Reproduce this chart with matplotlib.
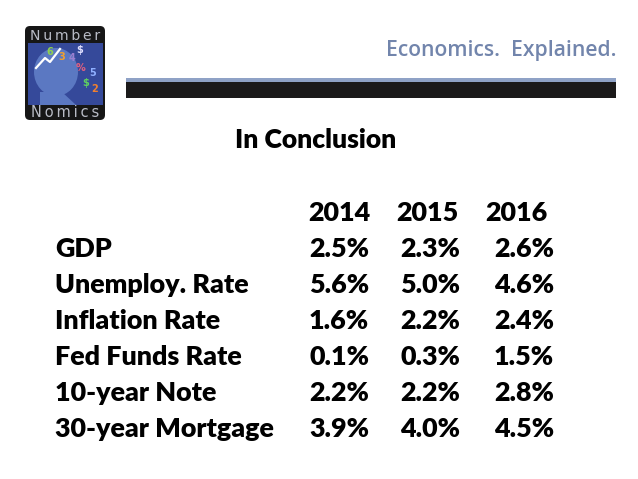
import numpy as np
import matplotlib
matplotlib.use("Agg")
import matplotlib.pyplot as plt
from matplotlib.patches import Rectangle, FancyBboxPatch, Ellipse, Polygon


# table contents
indicators = ["GDP", "Unemploy. Rate", "Inflation Rate", "Fed Funds Rate",
              "10-year Note", "30-year Mortgage"]
years = ["2014", "2015", "2016"]
v2014 = [2.5, 5.6, 1.6, 0.1, 2.2, 3.9]
v2015 = [2.3, 5.0, 2.2, 0.3, 2.2, 4.0]
v2016 = [2.6, 4.6, 2.4, 1.5, 2.8, 4.5]

title = "In Conclusion"
tagline = "Economics.  Explained."

W, H = 638, 479
fig = plt.figure(figsize=(W / 100, H / 100), dpi=100)
ax = fig.add_axes([0, 0, 1, 1])
ax.set_xlim(0, W)
ax.set_ylim(H, 0)
ax.axis("off")
renderer = fig.canvas.get_renderer()


def fit_size(s, width, **kw):
    #size of text so that it is width pixels wide
    t = ax.text(0, 0, s, fontsize=10, **kw)
    w = t.get_window_extent(renderer).width
    t.remove()
    return 10 * width / w


body = dict(family="Lato", weight="heavy", color="black")
fs = fit_size("30-year Mortgage", 220, **body)

# logo
ax.add_patch(FancyBboxPatch((27, 28), 76, 90, boxstyle="round,pad=2,rounding_size=5",
                            fc="#161616", ec="none"))
ax.add_patch(Rectangle((28, 43), 75, 62, fc="#35499a", ec="none"))
ax.add_patch(Ellipse((56, 72), 44, 48, fc="#5b78c2", ec="none"))
ax.add_patch(Polygon([[40, 92], [62, 92], [76, 105], [40, 105]], fc="#5b78c2", ec="none"))
ax.plot([36, 45, 50, 60], [68, 58, 62, 49], color="white", lw=1.6)
for s, x, y, c in [("6", 50, 52, "#8fd14f"), ("3", 62, 57, "#f0a030"), ("4", 72, 58, "#9a7fd0"),
                   ("$", 80, 50, "#e0e0ff"), ("5", 93, 73, "#8fb0ff"), ("$", 86, 83, "#5fd060"),
                   ("2", 95, 89, "#f08030"), ("%", 80, 68, "#e06080")]:
    ax.text(x, y, s, fontsize=7, color=c, weight="bold", ha="center", va="center")
lg = dict(family="DejaVu Sans", color="#b9bcc6")
top_word = "\u2009".join("Number")
bot_word = "\u2009".join("Nomics")
ax.text(65, 35.5, top_word, fontsize=fit_size(top_word, 70, **lg), ha="center", va="center", **lg)
ax.text(65, 112.5, bot_word, fontsize=fit_size(bot_word, 68, **lg), ha="center", va="center", **lg)

# header
tg = dict(family="Open Sans", weight="semibold", color="#7285ac")
ax.text(617, 56, tagline, fontsize=fit_size(tagline, 231, **tg), ha="right", va="baseline", **tg)
ax.add_patch(Rectangle((126, 78), 490, 3.5, fc="#8fa2c6", ec="none"))
ax.add_patch(Rectangle((126, 81.5), 490, 16.5, fc="#1b1a1a", ec="none"))

# title
ax.text(316, 148, title, fontsize=fit_size(title, 163, **body), ha="center", va="baseline", **body)

# table
year_x = [339.5, 427.5, 516]
col_right = [369, 460, 554]
for x, yr in zip(year_x, years):
    ax.text(x, 221, yr, fontsize=fs, ha="center", va="baseline", **body)

cols = [v2014, v2015, v2016]
for i, name in enumerate(indicators):
    y = 257 + 36 * i
    ax.text(55, y, name, fontsize=fs, ha="left", va="baseline", **body)
    for j in range(3):
        ax.text(col_right[j], y, "%.1f%%" % cols[j][i], fontsize=fs, ha="right", va="baseline", **body)

fig.savefig("out.png", dpi=100, facecolor="white")
